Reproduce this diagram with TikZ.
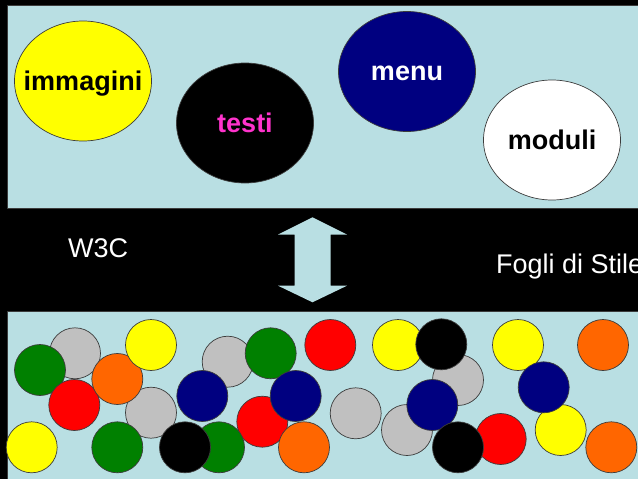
\documentclass[tikz,border=0pt]{standalone}
\usepackage{fontspec}
\setmainfont{Liberation Sans}
\usetikzlibrary{shapes.geometric}
\definecolor{pale}{RGB}{185,223,227}
\definecolor{edge}{RGB}{60,60,60}
\definecolor{cyel}{RGB}{255,255,0}
\definecolor{cnavy}{RGB}{0,0,128}
\definecolor{cgreen}{RGB}{0,128,0}
\definecolor{cred}{RGB}{255,0,0}
\definecolor{corange}{RGB}{255,102,0}
\definecolor{cgray}{RGB}{192,192,192}
\definecolor{cmag}{RGB}{255,51,204}
\tikzset{
  panel/.style={fill=pale,draw=edge,line width=0.8pt},
  bigoval/.style={ellipse,draw=edge,line width=0.7pt,inner sep=0pt,minimum width=137pt,minimum height=120pt},
  ovaltext/.style={inner sep=0pt,font=\fontsize{27pt}{31pt}\selectfont\bfseries,text height=24.4pt,text depth=5.7pt},
  ball/.style={circle,draw=edge,line width=0.7pt,inner sep=0pt,minimum size=51pt,fill=#1},
  bandtext/.style={anchor=base west,text=white,inner sep=0pt,font=\fontsize{27pt}{31pt}\selectfont}
}
\begin{document}
\begin{tikzpicture}[x=1pt,y=-1pt]
\useasboundingbox (0,0) rectangle (638,479);
\clip (0,0) rectangle (638,479);
\fill[black] (0,0) rectangle (638,479);
% panels
\draw[panel] (7,5) rectangle (645,208);
\draw[panel] (7,311.5) rectangle (645,485);
% top ovals
\node[bigoval,fill=cyel] (imm) at (83,81) {};
\node[ovaltext,text=black] (immt) at (imm) {immagini};
\node[bigoval,fill=black] (tes) at (245,123) {};
\node[ovaltext,text=cmag] (test) at (tes) {testi};
\node[bigoval,fill=cnavy] (men) at (407,71.5) {};
\node[ovaltext,text=white] (ment) at (men) {menu};
\node[bigoval,fill=white] (mod) at (552,140) {};
\node[ovaltext,text=black] (modt) at (mod) {moduli};
% band
\node[bandtext] (w3c) at (68,257.3) {W3C};
\node[bandtext] (fds) at (496,273.3) {Fogli di Stile};
\fill[pale] (312.5,217.3) -- (347,234.5) -- (330.5,234.5) -- (330.5,285.7) -- (347,285.7)
  -- (312.5,302.3) -- (278,285.7) -- (294.5,285.7) -- (294.5,234.5) -- (278,234.5) -- cycle;
% balls, bottom to top
\node[ball=cgray] (b1) at (75,353.3) {};
\node[ball=cgreen] (b2) at (40,370) {};
\node[ball=cred] (b5) at (74.3,405) {};
\node[ball=cgray] (b6) at (151,412.7) {};
\node[ball=corange] (b4) at (117.3,379) {};
\node[ball=cyel] (b3) at (151,345) {};
\node[ball=cgray] (b7) at (227.7,361.7) {};
\node[ball=cgreen] (b8) at (270.7,353.3) {};
\node[ball=cnavy] (b9) at (202.3,396) {};
\node[ball=cred] (b11) at (262.3,421.7) {};
\node[ball=cnavy] (b10) at (295.7,396) {};
\node[ball=corange] (b16) at (304,447.3) {};
\node[ball=cgreen] (b14) at (219,447.3) {};
\node[ball=black] (b15) at (185,447.3) {};
\node[ball=cyel] (b12) at (31.7,447.3) {};
\node[ball=cgreen] (b13) at (117.3,447.3) {};
\node[ball=cred] (b17) at (330.3,345) {};
\node[ball=cgray] (b23) at (355.7,413.3) {};
\node[ball=cgray] (b24) at (407,430) {};
\node[ball=cgray] (b21) at (458,380) {};
\node[ball=cyel] (b19) at (398,345) {};
\node[ball=black] (b20) at (441.3,344.3) {};
\node[ball=cnavy] (b22) at (432.3,405) {};
\node[ball=cred] (b26) at (500.7,439) {};
\node[ball=black] (b25) at (458,447.3) {};
\node[ball=cyel] (b27) at (518,345) {};
\node[ball=cyel] (b30) at (560.7,430) {};
\node[ball=cnavy] (b28) at (543.7,387.3) {};
\node[ball=corange] (b29) at (603,345) {};
\node[ball=corange] (b31) at (611.3,447.3) {};
\end{tikzpicture}
\end{document}
